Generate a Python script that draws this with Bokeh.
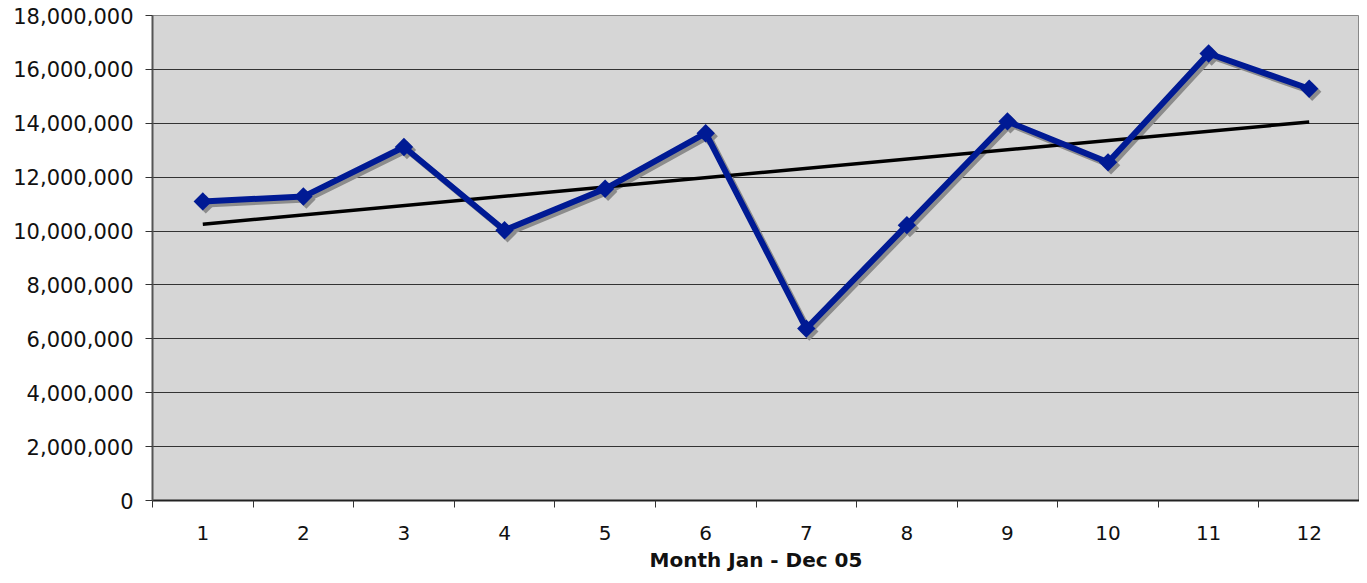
import numpy as np
from bokeh.plotting import figure
from bokeh.models import Range1d, FixedTicker, NumeralTickFormatter
from bokeh.embed import file_html
from bokeh.resources import INLINE

months = [1, 2, 3, 4, 5, 6, 7, 8, 9, 10, 11, 12]
sales = [11100000, 11280000, 13120000, 10030000, 11570000, 13630000,
         6380000, 10220000, 14070000, 12550000, 16590000, 15280000]
y_ticks = [0, 2000000, 4000000, 6000000, 8000000, 10000000, 12000000,
           14000000, 16000000, 18000000]

FONT = "DejaVu Sans"
W, H = 1359, 575

p = figure(width=W, height=H, output_backend="svg", toolbar_location=None,
           x_range=Range1d(0.5, 12.5), y_range=Range1d(0, 18000000),
           min_border_left=152, min_border_right=0, min_border_top=15,
           min_border_bottom=75)
p.border_fill_color = "white"
p.background_fill_color = "#D6D6D6"
p.outline_line_color = "#888888"
p.outline_line_width = 1

# shadow ranges (shift a few pixels right/down)
dx = 3 * 12 / 1207
dy = 3 * 18000000 / 485
p.extra_x_ranges = {"sh": Range1d(0.5 - dx, 12.5 - dx)}
p.extra_y_ranges = {"sh": Range1d(0 + dy, 18000000 + dy)}

# axes
p.xaxis.ticker = FixedTicker(ticks=months,
                             minor_ticks=[m - 0.5 for m in months] + [12.5])
p.xaxis.major_tick_line_color = None
p.xaxis.minor_tick_out = 7
p.xaxis.minor_tick_in = 0
p.xaxis.minor_tick_line_color = "#333333"
p.xaxis.minor_tick_line_width = 1
p.xaxis.axis_line_color = "#222222"
p.xaxis.axis_line_width = 2
p.xaxis.major_label_text_font = FONT
p.xaxis.major_label_text_font_size = "20px"
p.xaxis.major_label_text_color = "#111111"
p.xaxis.major_label_standoff = 18
p.xaxis.axis_label = "Month Jan - Dec 05"
p.xaxis.axis_label_text_font = FONT
p.xaxis.axis_label_text_font_size = "20px"
p.xaxis.axis_label_text_font_style = "bold"
p.xaxis.axis_label_text_color = "#111111"
p.xaxis.axis_label_standoff = 5

p.yaxis.ticker = FixedTicker(ticks=y_ticks, minor_ticks=[])
p.yaxis.formatter = NumeralTickFormatter(format="0,0")
p.yaxis.major_tick_out = 7
p.yaxis.major_tick_in = 0
p.yaxis.major_tick_line_color = "#333333"
p.yaxis.axis_line_color = "#555555"
p.yaxis.axis_line_width = 2
p.yaxis.major_label_text_font = FONT
p.yaxis.major_label_text_font_size = "21px"
p.yaxis.major_label_text_color = "#111111"
p.yaxis.major_label_standoff = 12

p.xgrid.grid_line_color = None
p.ygrid.ticker = FixedTicker(ticks=y_ticks)
p.ygrid.grid_line_color = "#333333"
p.ygrid.grid_line_width = 1

# shadow
p.line(months, sales, line_color="#8C8C8C", line_width=6,
       x_range_name="sh", y_range_name="sh")
p.scatter(months, sales, marker="square", angle=np.pi / 4, size=13,
          fill_color="#8C8C8C", line_color=None,
          x_range_name="sh", y_range_name="sh")

# trend line (least squares)
coef = np.polyfit(months, sales, 1)
trend = [coef[0] * m + coef[1] for m in months]
p.line([months[0], months[-1]], [trend[0], trend[-1]], line_color="black",
       line_width=3.5)

# data line
p.line(months, sales, line_color="#001A94", line_width=6)
p.scatter(months, sales, marker="square", angle=np.pi / 4, size=13,
          fill_color="#001A94", line_color=None)

open("out.html", "w").write(file_html(p, INLINE))
